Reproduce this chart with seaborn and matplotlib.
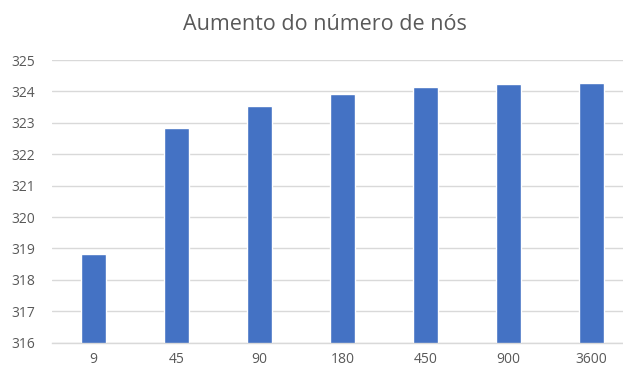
import matplotlib
matplotlib.use("Agg")
import matplotlib.pyplot as plt
import seaborn as sns
import pandas as pd

# Number of nodes and the resulting values
nodes = ["9", "45", "90", "180", "450", "900", "3600"]
values = [318.83, 322.83, 323.53, 323.91, 324.14, 324.23, 324.27]
y_ticks = [316, 317, 318, 319, 320, 321, 322, 323, 324, 325]
title = "Aumento do número de nós"

df = pd.DataFrame({"nos": nodes, "valor": values})

sns.set_theme(style="white")
plt.rcParams["font.family"] = ["Open Sans", "DejaVu Sans"]

fig = plt.figure(figsize=(6.23, 3.70), dpi=100)
ax = fig.add_axes([52 / 623, 27.3 / 370, 581 / 623, 282.7 / 370])

sns.barplot(data=df, x="nos", y="valor", order=nodes, color="#4472C4",
            saturation=1, width=0.31, ax=ax, zorder=3)

ax.set_ylim(y_ticks[0], y_ticks[-1])
ax.set_yticks(y_ticks)
ax.set_yticklabels([str(t) for t in y_ticks])
ax.yaxis.grid(True, color="#d9d9d9", linewidth=1)
ax.set_axisbelow(True)
for s in ["top", "right", "left"]:
    ax.spines[s].set_visible(False)
ax.spines["bottom"].set_color("#d9d9d9")
ax.spines["bottom"].set_linewidth(1)
ax.spines["bottom"].set_zorder(4)
ax.tick_params(axis="both", length=0, colors="#595959", labelsize=10)
ax.tick_params(axis="y", pad=12)
ax.tick_params(axis="x", pad=7)
ax.set_xlabel("")
ax.set_ylabel("")

fig.text(325 / 623, 1 - 25 / 370, title, ha="center", va="center",
         fontsize=15.5, color="#595959")

fig.savefig("out.png", dpi=100)
